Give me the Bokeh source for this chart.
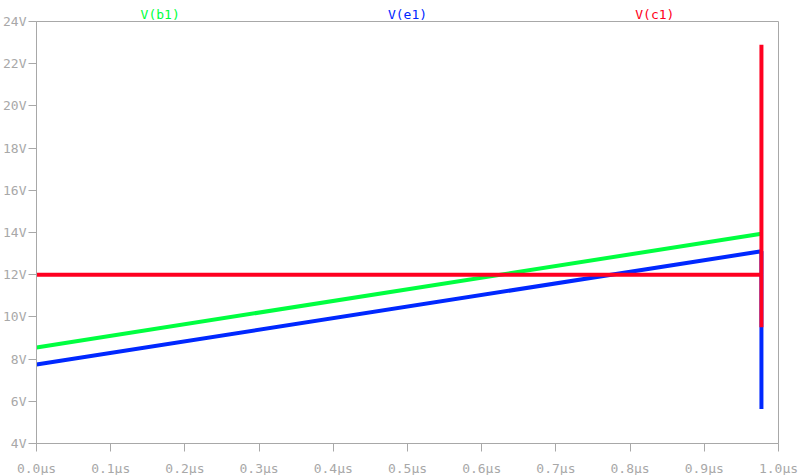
from bokeh.plotting import figure
from bokeh.layouts import column
from bokeh.models import Range1d, FixedTicker
from bokeh.core.properties import value
from bokeh.embed import file_html
from bokeh.resources import INLINE

# ---- data (time in µs, voltage in V) ----
t_b1 = [0.0, 0.977]
v_b1 = [8.55, 13.94]

t_e1 = [0.0, 0.977, 0.977]
v_e1 = [7.74, 13.11, 5.63]

t_c1 = [0.0, 0.977, 0.977, 0.977]
v_c1 = [12.0, 12.0, 22.9, 9.51]

x_ticks = [0.0, 0.1, 0.2, 0.3, 0.4, 0.5, 0.6, 0.7, 0.8, 0.9, 1.0]
x_labels = ["0.0µs", "0.1µs", "0.2µs", "0.3µs", "0.4µs", "0.5µs",
            "0.6µs", "0.7µs", "0.8µs", "0.9µs", "1.0µs"]
y_ticks = [4, 6, 8, 10, 12, 14, 16, 18, 20, 22, 24]
y_labels = ["4V", "6V", "8V", "10V", "12V", "14V", "16V", "18V", "20V", "22V", "24V"]

trace_names = ["V(b1)", "V(e1)", "V(c1)"]
trace_pos = [1 / 6, 0.5, 5 / 6]
colors = ["#00ff40", "#0028ff", "#ff0020"]

GREY = "#a8a8a8"
FONT = "DejaVu Sans Mono"

xr = Range1d(0, 1)

# ---- header strip with trace names (overlaps the plot's top border) ----
head = figure(frame_width=742, frame_height=21,
              x_range=xr, y_range=Range1d(0, 21),
              x_axis_type=None, y_axis_type=None,
              output_backend="svg", toolbar_location=None,
              min_border_left=34, min_border_right=22,
              min_border_top=0, min_border_bottom=0,
              margin=(0, 0, -8, 0),
              background_fill_color="white", border_fill_color="white")
head.outline_line_color = None
head.xgrid.visible = False
head.ygrid.visible = False
head.text(x=trace_pos, y=[7] * len(trace_names), text=trace_names,
          text_color=colors, text_font=value(FONT), text_font_size="13px",
          text_align="center", text_baseline="middle")

# ---- main plot ----
p = figure(frame_width=742, frame_height=422,
           x_range=xr, y_range=Range1d(4, 24),
           output_backend="svg", toolbar_location=None,
           min_border_left=34, min_border_right=22,
           min_border_top=8, min_border_bottom=32,
           background_fill_color="white", border_fill_alpha=0)

p.xgrid.visible = False
p.ygrid.visible = False
p.outline_line_color = GREY
p.outline_line_width = 1

for ax in (p.xaxis[0], p.yaxis[0]):
    ax.axis_line_color = GREY
    ax.major_tick_line_color = GREY
    ax.minor_tick_line_color = None
    ax.major_tick_in = 0
    ax.major_label_text_color = GREY
    ax.major_label_text_font = FONT

p.xaxis.ticker = FixedTicker(ticks=x_ticks)
p.xaxis.major_label_overrides = {t: l for t, l in zip(x_ticks, x_labels)}
p.xaxis.major_tick_out = 8
p.xaxis.major_label_standoff = 9
p.xaxis.major_label_text_font_size = "13px"

p.yaxis.ticker = FixedTicker(ticks=y_ticks)
p.yaxis.major_label_overrides = {t: l for t, l in zip(y_ticks, y_labels)}
p.yaxis.major_tick_out = 8
p.yaxis.major_label_standoff = 2
p.yaxis.major_label_text_font_size = "13px"

p.line(t_b1, v_b1, line_color=colors[0], line_width=4)
p.line(t_e1, v_e1, line_color=colors[1], line_width=4)
p.line(t_c1, v_c1, line_color=colors[2], line_width=4)

layout = column(head, p, spacing=0)

open("out.html", "w").write(file_html(layout, INLINE))
